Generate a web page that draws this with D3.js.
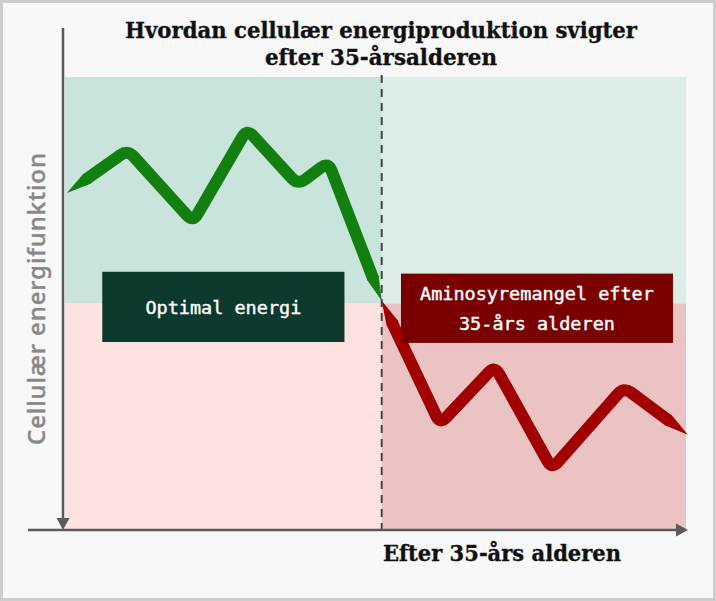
<!DOCTYPE html>
<html><head><meta charset="utf-8">
<script src="https://cdn.jsdelivr.net/npm/d3@7"></script>
<style>
html,body{margin:0;padding:0;background:#f8f8f8;}
svg{display:block;}
</style></head>
<body>
<script>
// ---- data ----
const titleLines = ["Hvordan cellulær energiproduktion svigter", "efter 35-årsalderen"];
const xLabel = "Efter 35-års alderen";
const yLabel = "Cellulær energifunktion";
const dividerX = 51;          // position of the 35-year mark on x (0-100)
const zoneSplitY = 50;        // boundary between healthy/deficit zones (0-100)
const greenX = [0.3, 10.1, 20.6, 29.3, 37.5, 42.4, 51.0];
const greenY = [74.4, 83.9, 68.0, 88.5, 76.2, 81.2, 50.6];
const redX = [51.0, 60.4, 69.2, 78.4, 90.0, 100.3];
const redY = [50.6, 23.4, 36.2, 13.5, 31.5, 21.0];
const boxLabels = [
  {lines: ["Optimal energi"], x0: 6, x1: 45, y0: 57, y1: 41.5, fill: "#0d3a2e"},
  {lines: ["Aminosyremangel efter", "35-års alderen"], x0: 54.1, x1: 97.9, y0: 56.6, y1: 41.3, fill: "#7a0000"}
];

const W = 716, H = 601;
const svg = d3.select("body").append("svg").attr("width", W).attr("height", H);

svg.append("rect").attr("x", 1.5).attr("y", 1.5).attr("width", W - 3).attr("height", H - 3)
  .attr("fill", "#f8f8f8").attr("stroke", "#cdcdcd").attr("stroke-width", 3);

const x = d3.scaleLinear().domain([0, 100]).range([65, 686]);
const y = d3.scaleLinear().domain([0, 100]).range([530, 77]);

// zones
const zones = [
  {x0: 0, x1: dividerX, y0: 100, y1: zoneSplitY, fill: "#c9e4dc"},
  {x0: dividerX, x1: 100, y0: 100, y1: zoneSplitY, fill: "#dcece6"},
  {x0: 0, x1: dividerX, y0: zoneSplitY, y1: 0, fill: "#fee2e2"},
  {x0: dividerX, x1: 100, y0: zoneSplitY, y1: 0, fill: "#ecc3c3"}
];
svg.selectAll("rect.zone").data(zones).enter().append("rect").attr("class", "zone")
  .attr("x", d => x(d.x0)).attr("y", d => y(d.y0))
  .attr("width", d => x(d.x1) - x(d.x0)).attr("height", d => y(d.y1) - y(d.y0))
  .attr("fill", d => d.fill);

// divider
svg.append("line").attr("x1", x(dividerX)).attr("x2", x(dividerX))
  .attr("y1", y(100) - 2).attr("y2", y(0))
  .attr("stroke", "#444").attr("stroke-width", 2).attr("stroke-dasharray", "8,6");

// brush-like lines with tapered ends and rounded corners
const lineGen = d3.line();
const SW = 12, TAPER = 24, R = 9;
function drawLine(xs, ys, color) {
  const pts = xs.map((v, i) => [x(v), y(ys[i])]);
  const g = svg.append("g");
  function taper(p0, p1) {
    const dx = p1[0] - p0[0], dy = p1[1] - p0[1], len = Math.hypot(dx, dy);
    const ux = dx / len, uy = dy / len, nx = -uy, ny = ux;
    const q = [p0[0] + ux * TAPER, p0[1] + uy * TAPER];
    g.append("path").attr("d", lineGen([p0,
      [q[0] + nx * SW / 2, q[1] + ny * SW / 2],
      [q[0] + ux * 1 + nx * SW / 2, q[1] + uy * 1 + ny * SW / 2],
      [q[0] + ux * 1 - nx * SW / 2, q[1] + uy * 1 - ny * SW / 2],
      [q[0] - nx * SW / 2, q[1] - ny * SW / 2]]) + "Z")
      .attr("fill", color);
    return q;
  }
  const n = pts.length;
  const qs = taper(pts[0], pts[1]);
  const qe = taper(pts[n - 1], pts[n - 2]);
  const main = [qs].concat(pts.slice(1, n - 1)).concat([qe]);
  const p = d3.path();
  p.moveTo(main[0][0], main[0][1]);
  for (let i = 1; i < main.length - 1; i++) {
    const a = main[i - 1], b = main[i], c = main[i + 1];
    const l1 = Math.hypot(b[0] - a[0], b[1] - a[1]);
    const l2 = Math.hypot(c[0] - b[0], c[1] - b[1]);
    const r = Math.min(R, l1 / 2, l2 / 2);
    const s = [b[0] - (b[0] - a[0]) / l1 * r, b[1] - (b[1] - a[1]) / l1 * r];
    const e = [b[0] + (c[0] - b[0]) / l2 * r, b[1] + (c[1] - b[1]) / l2 * r];
    p.lineTo(s[0], s[1]);
    p.quadraticCurveTo(b[0], b[1], e[0], e[1]);
  }
  p.lineTo(main[main.length - 1][0], main[main.length - 1][1]);
  g.append("path").attr("d", p.toString()).attr("fill", "none")
    .attr("stroke", color).attr("stroke-width", SW)
    .attr("stroke-linejoin", "round").attr("stroke-linecap", "butt");
}
drawLine(greenX, greenY, "#137f0e");
drawLine(redX, redY, "#a20000");

// label boxes
boxLabels.forEach(b => {
  const g = svg.append("g");
  const bx = x(b.x0), bw = x(b.x1) - x(b.x0), by = y(b.y0), bh = y(b.y1) - y(b.y0);
  g.append("rect").attr("x", bx).attr("y", by).attr("width", bw).attr("height", bh)
    .attr("fill", b.fill);
  const lh = 30;
  const startY = by + bh / 2 - (b.lines.length - 1) * lh / 2 + 7;
  b.lines.forEach((t, i) => {
    g.append("text").attr("x", bx + bw / 2).attr("y", startY + i * lh)
      .attr("text-anchor", "middle").attr("fill", "#ffffff")
      .attr("stroke", "#ffffff").attr("stroke-width", 0.4)
      .attr("font-family", "DejaVu Sans Mono, monospace").attr("font-size", 18.5)
      .text(t);
  });
});

// axes
const axisColor = "#5a5a5a";
svg.append("line").attr("x1", 63).attr("x2", 63).attr("y1", 28).attr("y2", 522)
  .attr("stroke", axisColor).attr("stroke-width", 2.5);
svg.append("path").attr("d", "M56.5,518 L69.5,518 L63,530 Z").attr("fill", axisColor);
svg.append("line").attr("x1", 28).attr("x2", 678).attr("y1", 530).attr("y2", 530)
  .attr("stroke", axisColor).attr("stroke-width", 2.5);
svg.append("path").attr("d", "M676,523.5 L688,530 L676,536.5 Z").attr("fill", axisColor);

// title
const titleWidths = [512, 232];
svg.selectAll("text.title").data(titleLines).enter().append("text").attr("class", "title")
  .attr("x", 381).attr("y", (d, i) => 38 + i * 27)
  .attr("text-anchor", "middle").attr("font-family", "DejaVu Serif, serif")
  .attr("font-weight", "bold").attr("font-size", 21.5).attr("fill", "#111")
  .attr("stroke", "#111").attr("stroke-width", 0.35)
  .attr("textLength", (d, i) => titleWidths[i]).attr("lengthAdjust", "spacingAndGlyphs")
  .text(d => d);

// x label
svg.append("text").attr("x", 383).attr("y", 561)
  .attr("font-family", "DejaVu Serif, serif").attr("font-weight", "bold")
  .attr("font-size", 21.5).attr("fill", "#111")
  .attr("stroke", "#111").attr("stroke-width", 0.35)
  .attr("textLength", 238).attr("lengthAdjust", "spacingAndGlyphs").text(xLabel);

// y label
svg.append("text").attr("transform", "translate(45,299) rotate(-90)")
  .attr("text-anchor", "middle").attr("font-family", "Noto Sans, sans-serif")
  .attr("font-weight", 500).attr("font-size", 24).attr("fill", "#888888")
  .attr("stroke", "#888888").attr("stroke-width", 0.4)
  .attr("textLength", 292).attr("lengthAdjust", "spacing")
  .text(yLabel);
</script>
</body></html>
